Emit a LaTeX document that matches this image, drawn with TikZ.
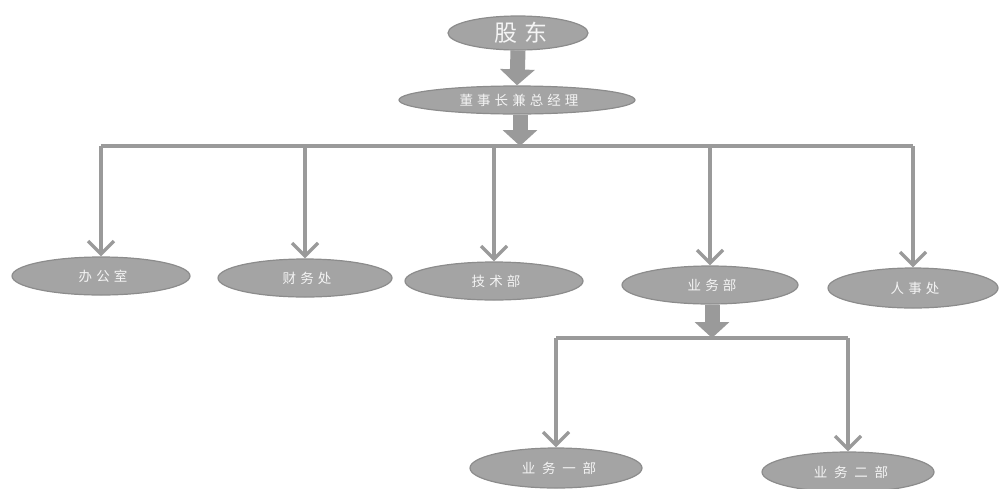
\documentclass[tikz,border=0pt]{standalone}
\usepackage{fontspec}
\newfontfamily\cjk{Noto Sans CJK SC}
\newfontfamily\cjkwide[LetterSpace=30]{Noto Sans CJK SC}
\newfontfamily\cjkwider[LetterSpace=50]{Noto Sans CJK SC}
\usetikzlibrary{arrows.meta,shapes.geometric}
\definecolor{boxfill}{HTML}{A4A4A4}
\definecolor{boxedge}{HTML}{8C8C8C}
\definecolor{linegray}{HTML}{9A9A9A}
\definecolor{txt}{HTML}{F4F4F4}
\tikzset{
  unit/.style={ellipse,fill=boxfill,draw=boxedge,line width=1.2pt,inner sep=0pt,
    text=txt,font=\cjkwide\fontsize{13.5}{15}\selectfont},
  conn/.style={draw=linegray,line width=3.4pt,-{Straight Barb[length=13pt,width=26pt]}},
  barline/.style={draw=linegray,line width=3.4pt},
  blockarrow/.style={draw=linegray,line width=15pt,
    -{Triangle[length=16pt,width=34pt]}}
}
\begin{document}
\begin{tikzpicture}[x=1pt,y=-1pt]
\useasboundingbox (0,0) rectangle (1003,488);
% nodes
\node[unit,minimum width=140pt,minimum height=34pt,font=\cjkwide\fontsize{23}{26}\selectfont] (gd) at (518,33) {\hspace*{6pt}股东};
\node[unit,minimum width=236pt,minimum height=28pt,font=\cjkwide\fontsize{13.5}{15}\selectfont] (ds) at (517,100) {\hspace*{4pt}董事长兼总经理};
\node[unit,minimum width=178pt,minimum height=38pt] (bgs) at (101,276) {\hspace*{4pt}办公室};
\node[unit,minimum width=174pt,minimum height=38pt] (cwc) at (305,278) {\hspace*{4pt}财务处};
\node[unit,minimum width=178pt,minimum height=38pt] (jsb) at (494,281) {\hspace*{4pt}技术部};
\node[unit,minimum width=176pt,minimum height=38pt] (ywb) at (710,285) {\hspace*{4pt}业务部};
\node[unit,minimum width=170pt,minimum height=40pt] (rsc) at (913,288) {\hspace*{4pt}人事处};
\node[unit,minimum width=172pt,minimum height=40pt,font=\cjkwider\fontsize{13.5}{15}\selectfont] (yw1) at (556,468) {\hspace*{6pt}业务一部};
\node[unit,minimum width=172pt,minimum height=40pt,font=\cjkwider\fontsize{13.5}{15}\selectfont] (yw2) at (848,472) {\hspace*{6pt}业务二部};
% bar coordinates
\coordinate (bar1) at (520,146);
\coordinate (bar2) at (712,338);
% block arrows
\draw[blockarrow] (gd.south) -- (ds.north);
\draw[blockarrow] (ds.south -| bar1) -- (bar1);
\draw[blockarrow] (ywb.south -| bar2) -- (bar2);
% bars
\draw[barline] (bgs.north |- bar1) -- (rsc.north |- bar1);
\draw[barline] (yw1.north |- bar2) -- (yw2.north |- bar2);
% drops
\draw[conn] (bgs.north |- bar1) -- (bgs.north);
\draw[conn] (cwc.north |- bar1) -- (cwc.north);
\draw[conn] (jsb.north |- bar1) -- (jsb.north);
\draw[conn] (ywb.north |- bar1) -- (ywb.north);
\draw[conn] (rsc.north |- bar1) -- (rsc.north);
\draw[conn] (yw1.north |- bar2) -- (yw1.north);
\draw[conn] (yw2.north |- bar2) -- (yw2.north);
\end{tikzpicture}
\end{document}
